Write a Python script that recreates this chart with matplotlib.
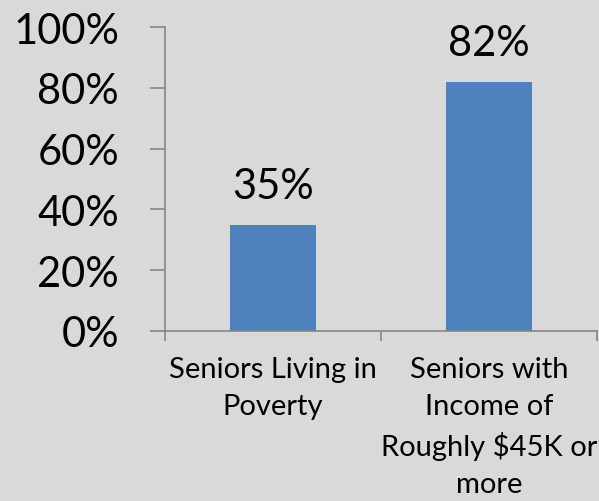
import numpy as np
import matplotlib.pyplot as plt
from matplotlib.ticker import FixedLocator

# Data
categories = ["Seniors Living in\nPoverty", "Seniors with\nIncome of\nRoughly $45K or\nmore"]
values = [35, 82]
y_ticks = [0, 20, 40, 60, 80, 100]

bg = "#d9d9d9"
bar_color = "#4f81bd"
axis_color = "#868686"

plt.rcParams["font.family"] = ["Lato", "DejaVu Sans"]

fig = plt.figure(figsize=(5.99, 5.02), dpi=100, facecolor=bg)
ax = fig.add_axes([165 / 599, 1 - 332 / 502, 432 / 599, 304 / 502])
ax.set_facecolor(bg)

x = np.arange(len(values))
bars = ax.bar(x, values, width=0.4, color=bar_color)

ax.set_xlim(-0.5, len(values) - 0.5)
ax.set_ylim(0, 100)

# data labels
for xi, v in zip(x, values):
    ax.annotate(f"{v}%", (xi, v), xytext=(0, 14), textcoords="offset points",
                ha="center", va="bottom", fontsize=30, color="black")

# y axis
ax.set_yticks(y_ticks)
ax.set_yticklabels([f"{t}%" for t in y_ticks], fontsize=30)
ax.tick_params(axis="y", length=11, width=1.2, color=axis_color, pad=22)

# x axis: labels at bar centers, tick marks at category boundaries
ax.set_xticks(x)
ax.set_xticklabels(categories, fontsize=21, linespacing=1.52, va="top")
ax.tick_params(axis="x", which="major", length=0, pad=18)
ax.xaxis.set_minor_locator(FixedLocator(np.arange(-0.5, len(values), 1.0)))
ax.tick_params(axis="x", which="minor", length=7, width=1.2, color=axis_color)

for side in ["top", "right"]:
    ax.spines[side].set_visible(False)
for side in ["left", "bottom"]:
    ax.spines[side].set_color(axis_color)
    ax.spines[side].set_linewidth(1.2)

fig.savefig("out.png", dpi=100, facecolor=bg)
